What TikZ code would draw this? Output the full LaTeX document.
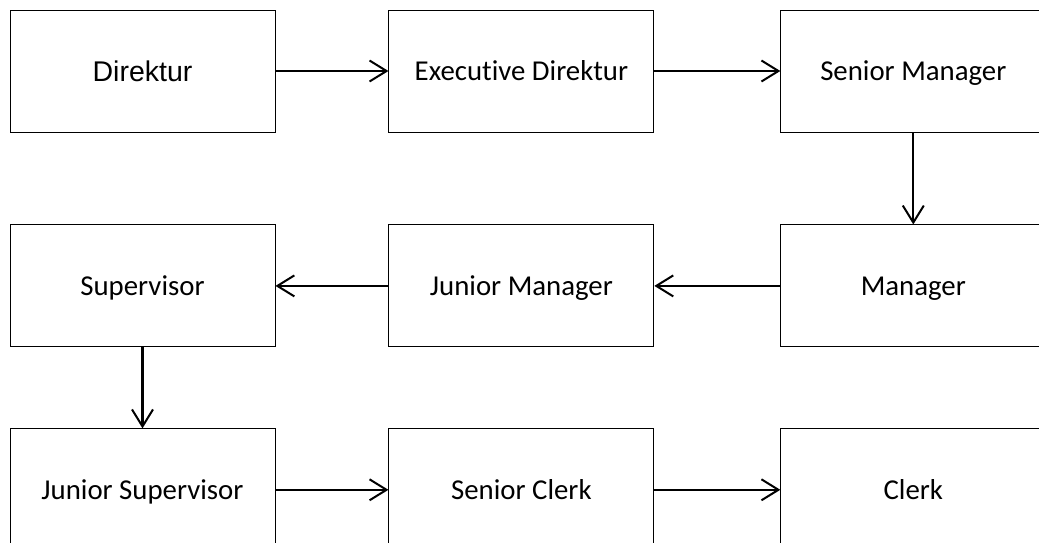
\documentclass[tikz,border=0pt]{standalone}
\usepackage{fontspec}
\setmainfont{Carlito}[Ligatures=NoCommon]
\newfontfamily\arialfont{Liberation Sans}
\usepackage{tikz}
\usetikzlibrary{positioning,arrows.meta}

\begin{document}
\begin{tikzpicture}[
      x=1pt, y=-1pt,
      rank/.style={
            rectangle, draw, line width=0.9pt,
            minimum width=265pt, minimum height=122pt,
            inner sep=0pt, text=black,
            text height=18.5pt, text depth=0pt,
            font=\fontsize{28.8}{34}\selectfont
        },
      >={Straight Barb[length=17pt,width=21pt,line width=2pt]},
      link/.style={->, line width=2.2pt}
      ]
    \useasboundingbox (0,0) rectangle (1039,542);
    % first row
    \node[rank,font=\arialfont\fontsize{28.5}{34}\selectfont,text height=20.4pt] (dir) at (142.5,71) {Direktur};
    \node[rank,right=113pt of dir] (exec) {Executive Direktur};
    \node[rank,right=126pt of exec] (senmgr) {Senior Manager};
    % second row
    \node[rank,below=92pt of senmgr] (mgr) {Manager};
    \node[rank,below=92pt of exec] (junmgr) {Junior Manager};
    \node[rank,below=92pt of dir] (sup) {Supervisor};
    % third row
    \node[rank,below=81pt of sup] (junsup) {Junior Supervisor};
    \node[rank,below=81pt of junmgr] (senclerk) {Senior Clerk};
    \node[rank,below=81pt of mgr] (clerk) {Clerk};

    \draw[link] (dir) -- (exec);
    \draw[link] (exec) -- (senmgr);
    \draw[link] (senmgr) -- (mgr);
    \draw[link] (mgr) -- (junmgr);
    \draw[link] (junmgr) -- (sup);
    \draw[link] (sup) -- (junsup);
    \draw[link] (junsup) -- (senclerk);
    \draw[link] (senclerk) -- (clerk);
  \end{tikzpicture}
\end{document}
